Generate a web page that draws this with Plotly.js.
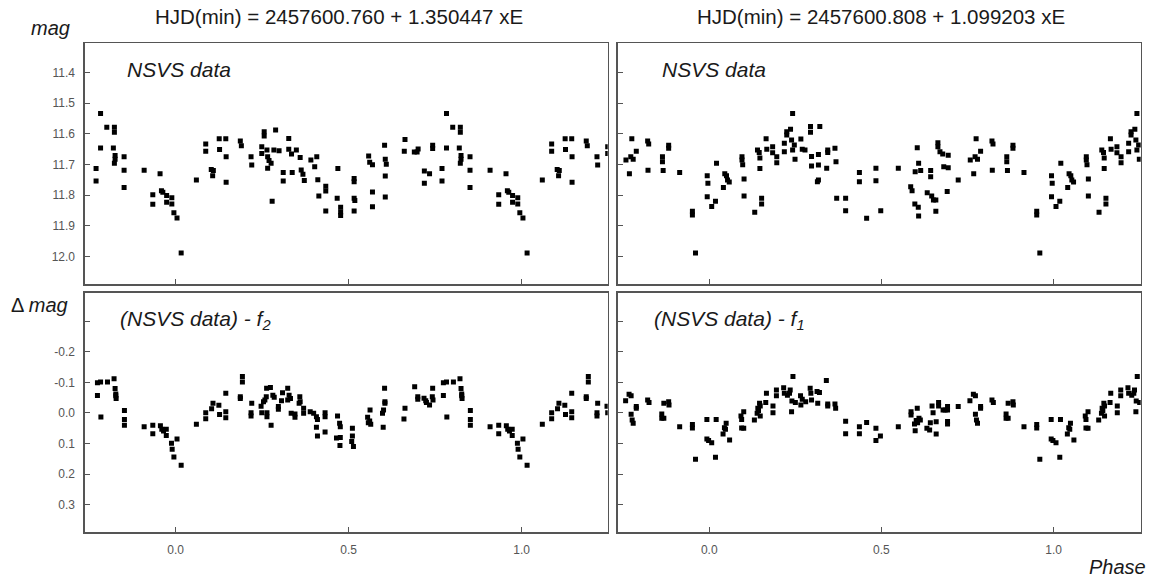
<!DOCTYPE html>
<html>
<head>
<meta charset="utf-8">
<script src="https://cdn.plot.ly/plotly-3.0.1.min.js"></script>
<style>
html,body{margin:0;padding:0;background:#fff;}
#chart{width:1155px;height:581px;}
</style>
</head>
<body>
<div id="chart"></div>
<script>
// ---------- DATA (one cycle of phase; points with phase <= 0.25 are repeated at phase+1) ----------
const titleLeft = "HJD(min) = 2457600.760 + 1.350447 xE";
const titleRight = "HJD(min) = 2457600.808 + 1.099203 xE";

const xTickVals = [0, 0.5, 1.0];
const xTickText = ["0.0", "0.5", "1.0"];
const magTickVals = [11.4, 11.5, 11.6, 11.7, 11.8, 11.9, 12.0];
const magTickText = ["11.4", "11.5", "11.6", "11.7", "11.8", "11.9", "12.0"];
const dmagTickVals = [-0.2, -0.1, 0.0, 0.1, 0.2, 0.3];
const dmagTickText = ["-0.2", "-0.1", "0.0", "0.1", "0.2", "0.3"];
const dmagUnlabelledTicks = [-0.3];

// Top-left: NSVS data, P = 1.350447 d
const tlPhase = [
 -0.230,-0.230,-0.217,-0.217,-0.199,-0.177,-0.177,-0.180,-0.175,-0.175,
 -0.177,-0.149,-0.149,-0.149,-0.091,-0.066,-0.066,-0.045,-0.041,-0.037,
 -0.026,-0.026,-0.011,-0.011,-0.005, 0.004, 0.016, 0.060, 0.087, 0.087,
  0.103, 0.107, 0.109, 0.126, 0.127, 0.145, 0.146, 0.146, 0.187, 0.190,
  0.218, 0.220, 0.249, 0.249, 0.256, 0.256, 0.264, 0.266, 0.266, 0.270,
  0.276, 0.279, 0.289, 0.284, 0.299, 0.311, 0.311, 0.327, 0.327, 0.335,
  0.337, 0.349, 0.360, 0.363, 0.368, 0.372, 0.391, 0.402, 0.408, 0.411,
  0.414, 0.434, 0.434, 0.434, 0.469, 0.467, 0.477, 0.477, 0.477, 0.516,
  0.516, 0.516, 0.518, 0.516, 0.558, 0.561, 0.569, 0.569, 0.569, 0.604,
  0.606, 0.609, 0.606, 0.606, 0.663, 0.661, 0.690, 0.698, 0.701, 0.719,
  0.719, 0.734, 0.743, 0.743];
const tlMag = [
 11.713,11.754,11.533,11.646,11.578,11.578,11.595,11.646,11.671,11.683,
 11.696,11.675,11.719,11.775,11.719,11.799,11.830,11.730,11.786,11.791,
 11.801,11.823,11.809,11.829,11.858,11.875,11.989,11.751,11.633,11.657,
 11.716,11.737,11.720,11.616,11.651,11.616,11.675,11.758,11.623,11.639,
 11.675,11.702,11.642,11.664,11.593,11.607,11.653,11.675,11.712,11.687,
 11.696,11.820,11.587,11.653,11.655,11.726,11.754,11.615,11.650,11.666,
 11.726,11.653,11.677,11.718,11.732,11.752,11.685,11.707,11.675,11.750,
 11.803,11.771,11.787,11.852,11.713,11.810,11.840,11.855,11.867,11.746,
 11.756,11.810,11.818,11.852,11.672,11.693,11.701,11.790,11.838,11.637,
 11.683,11.699,11.738,11.806,11.618,11.657,11.659,11.659,11.649,11.721,
 11.761,11.730,11.637,11.648];

// Top-right: NSVS data, P = 1.099203 d
const trPhase = [
 -0.242,-0.232,-0.228,-0.225,-0.221,-0.212,-0.179,-0.176,-0.178,-0.136,
 -0.136,-0.134,-0.118,-0.118,-0.086,-0.049,-0.049,-0.040,-0.006,-0.004,
 -0.006, 0.007, 0.018, 0.021, 0.041, 0.045, 0.050, 0.053, 0.058, 0.095,
  0.095, 0.097, 0.101, 0.101, 0.132, 0.140, 0.145, 0.147, 0.147, 0.152,
  0.152, 0.165, 0.167, 0.184, 0.184, 0.196, 0.196, 0.218, 0.218, 0.225,
  0.225, 0.236, 0.242, 0.239, 0.242, 0.247, 0.249, 0.266, 0.270, 0.278,
  0.294, 0.294, 0.297, 0.297, 0.317, 0.317, 0.321, 0.317, 0.314, 0.341,
  0.344, 0.344, 0.365, 0.368, 0.370, 0.396, 0.396, 0.436, 0.436, 0.457,
  0.484, 0.484, 0.498, 0.549, 0.604, 0.608, 0.598, 0.614, 0.585, 0.589,
  0.597, 0.607, 0.608, 0.633, 0.643, 0.643, 0.646, 0.651, 0.658, 0.658,
  0.664, 0.664, 0.670, 0.678, 0.681, 0.694, 0.694, 0.691, 0.723];
const trMag = [
 11.685,11.730,11.675,11.616,11.683,11.657,11.623,11.633,11.719,11.675,
 11.691,11.720,11.637,11.647,11.726,11.853,11.865,11.989,11.737,11.761,
 11.805,11.837,11.820,11.696,11.775,11.730,11.737,11.751,11.757,11.675,
 11.685,11.701,11.747,11.803,11.856,11.653,11.661,11.679,11.713,11.810,
 11.829,11.616,11.650,11.642,11.662,11.675,11.694,11.631,11.658,11.593,
 11.604,11.585,11.533,11.620,11.653,11.636,11.683,11.617,11.650,11.653,
 11.576,11.595,11.674,11.705,11.667,11.702,11.576,11.751,11.756,11.712,
 11.653,11.661,11.647,11.691,11.810,11.810,11.851,11.726,11.756,11.876,
 11.712,11.753,11.851,11.712,11.645,11.696,11.724,11.720,11.773,11.786,
 11.829,11.840,11.868,11.792,11.720,11.740,11.803,11.816,11.816,11.853,
 11.629,11.642,11.658,11.666,11.707,11.670,11.711,11.788,11.751];

// Bottom-left: (NSVS data) - f2
const blPhase = [
 -0.226,-0.217,-0.226,-0.216,-0.197,-0.178,-0.175,-0.173,-0.173,-0.172,
 -0.148,-0.148,-0.148,-0.091,-0.066,-0.066,-0.044,-0.040,-0.035,-0.027,
 -0.027,-0.012,-0.010,-0.005, 0.004, 0.016, 0.060, 0.087, 0.087, 0.104,
  0.108, 0.125, 0.127, 0.145, 0.145, 0.145, 0.187, 0.193, 0.193, 0.187,
  0.220, 0.218, 0.218, 0.247, 0.249, 0.254, 0.258, 0.262, 0.263, 0.274,
  0.264, 0.264, 0.276, 0.281, 0.285, 0.297, 0.297, 0.309, 0.306, 0.324,
  0.328, 0.332, 0.324, 0.334, 0.345, 0.345, 0.359, 0.360, 0.357, 0.370,
  0.370, 0.389, 0.399, 0.407, 0.410, 0.407, 0.410, 0.432, 0.432, 0.432,
  0.468, 0.474, 0.476, 0.465, 0.475, 0.476, 0.511, 0.511, 0.509, 0.514,
  0.555, 0.557, 0.564, 0.561, 0.562, 0.600, 0.598, 0.601, 0.605, 0.605,
  0.604, 0.660, 0.663, 0.691, 0.700, 0.700, 0.718, 0.723, 0.725, 0.734,
  0.742, 0.744, 0.743];
const blDmag = [
 -0.099,-0.101,-0.057, 0.013,-0.101,-0.112,-0.080,-0.062,-0.056,-0.047,
 -0.008, 0.021, 0.040, 0.045, 0.040, 0.068, 0.042, 0.053, 0.059, 0.053,
  0.074, 0.099, 0.119, 0.144, 0.085, 0.171, 0.037,-0.001, 0.019,-0.014,
 -0.032,-0.025, 0.005,-0.064,-0.004, 0.016,-0.047,-0.119,-0.101,-0.053,
 -0.032,-0.001, 0.010,-0.022,-0.001,-0.037,-0.042,-0.053,-0.081,-0.083,
 -0.001, 0.012, 0.040,-0.058,-0.051,-0.021,-0.012,-0.066,-0.040,-0.081,
 -0.058,-0.047,-0.042, 0.001, 0.003, 0.014,-0.053,-0.037,-0.032,-0.015,
  0.001,-0.004, 0.001, 0.012, 0.021, 0.047, 0.075,-0.001, 0.012, 0.062,
  0.010, 0.034, 0.045, 0.082, 0.106, 0.080, 0.050, 0.075, 0.093, 0.110,
  0.014, 0.032, 0.037, 0.026,-0.010, 0.047, 0.001,-0.010,-0.032,-0.037,
 -0.081, 0.020,-0.015,-0.086,-0.053,-0.045,-0.048,-0.040,-0.034,-0.026,
 -0.053,-0.042,-0.081];

// Bottom-right: (NSVS data) - f1
const brPhase = [
 -0.243,-0.233,-0.227,-0.227,-0.224,-0.221,-0.212,-0.212,-0.179,-0.175,
 -0.138,-0.138,-0.132,-0.132,-0.118,-0.117,-0.086,-0.049,-0.049,-0.040,
 -0.007,-0.007,-0.002, 0.007, 0.020, 0.018, 0.040, 0.044, 0.049, 0.047,
  0.059, 0.092, 0.094, 0.094, 0.100, 0.100, 0.131, 0.141, 0.143, 0.146,
  0.148, 0.139, 0.148, 0.166, 0.164, 0.185, 0.185, 0.195, 0.195, 0.216,
  0.218, 0.227, 0.235, 0.233, 0.243, 0.240, 0.250, 0.239, 0.265, 0.270,
  0.266, 0.280, 0.293, 0.295, 0.297, 0.313, 0.315, 0.320, 0.340, 0.344,
  0.344, 0.365, 0.367, 0.396, 0.396, 0.436, 0.436, 0.457, 0.484, 0.484,
  0.497, 0.549, 0.586, 0.586, 0.604, 0.596, 0.598, 0.601, 0.605, 0.609,
  0.613, 0.632, 0.640, 0.642, 0.647, 0.650, 0.659, 0.659, 0.666, 0.666,
  0.679, 0.685, 0.692, 0.692, 0.692, 0.692, 0.723];
const brDmag = [
 -0.040,-0.061,-0.056, 0.004, 0.023, 0.034,-0.015,-0.021,-0.042,-0.034,
  0.003, 0.017, 0.017,-0.032,-0.037,-0.026, 0.045, 0.038, 0.049, 0.151,
  0.021, 0.085, 0.090, 0.097, 0.021, 0.145, 0.069, 0.048, 0.034, 0.053,
  0.088, 0.010, 0.021, 0.049, 0.050,-0.004, 0.023,-0.015,-0.008,-0.032,
 -0.023, 0.001, 0.010,-0.064,-0.034,-0.023,-0.001,-0.075,-0.056,-0.082,
 -0.064,-0.058,-0.075,-0.064,-0.119,-0.039,-0.034,-0.004,-0.056,-0.045,
 -0.026,-0.037,-0.081,-0.064,-0.042,-0.070,-0.032,-0.067,-0.106,-0.029,
 -0.023,-0.029,-0.015, 0.027, 0.068, 0.045, 0.068, 0.031, 0.050, 0.090,
  0.075, 0.045,-0.004, 0.007,-0.015, 0.036, 0.058, 0.025, 0.032, 0.017,
  0.023, 0.050, 0.056, 0.032,-0.023,-0.001, 0.029, 0.069,-0.034,-0.023,
 -0.010,-0.010,-0.021,-0.010, 0.028, 0.036,-0.021];

// ---------- LAYOUT ----------
const W = 1155, H = 581;
const px = v => v / W;
const py = v => 1 - v / H;
const FONT = "Liberation Sans, Arial, sans-serif";
const AXC = "#555555";

// extend a phased light curve: each point shown at phase, and again at phase+1 when inside the axis
function extend(ph, val, xmax) {
  const xs = [], ys = [];
  const n = Math.min(ph.length, val.length);
  for (let i = 0; i < n; i++) {
    xs.push(ph[i]); ys.push(val[i]);
    if (ph[i] + 1 <= xmax) { xs.push(ph[i] + 1); ys.push(val[i]); }
  }
  return [xs, ys];
}

const leftRange = [-0.262, 1.249];
const rightRange = [-0.266, 1.253];
const magRange = [12.0905, 11.304];
const dmagRange = [0.390, -0.393];

const marker = {symbol: "square", size: 5, color: "#000000", line: {width: 0}};
function trace(ph, val, xmax, xa, ya) {
  const [xs, ys] = extend(ph, val, xmax);
  return {x: xs, y: ys, xaxis: xa, yaxis: ya, type: "scatter", mode: "markers",
          marker: marker, showlegend: false, hoverinfo: "skip", cliponaxis: true};
}

const data = [
  trace(tlPhase, tlMag, leftRange[1], "x", "y"),
  trace(trPhase, trMag, rightRange[1], "x2", "y2"),
  trace(blPhase, blDmag, leftRange[1], "x3", "y3"),
  trace(brPhase, brDmag, rightRange[1], "x4", "y4")
];

function axBase() {
  return {showline: true, mirror: true, linecolor: AXC, linewidth: 1.6,
          ticks: "inside", ticklen: 5, tickwidth: 1, tickcolor: AXC,
          showgrid: false, zeroline: false, fixedrange: true,
          tickfont: {family: FONT, size: 12, color: "#555555"}};
}
function xAx(domain, range, anchor, labels) {
  return Object.assign(axBase(), {domain: domain, range: range, anchor: anchor,
    tickmode: "array", tickvals: xTickVals, ticktext: xTickText,
    showticklabels: labels, ticklabelstandoff: 6});
}
function yAx(domain, range, anchor, vals, text, labels, extra) {
  const ax = Object.assign(axBase(), {domain: domain, range: range, anchor: anchor,
    tickmode: "array", tickvals: vals, ticktext: text,
    showticklabels: labels, ticklabelstandoff: 6});
  if (extra) {
    ax.minor = {tickmode: "array", tickvals: extra, ticks: "inside", ticklen: 5,
                tickwidth: 1, tickcolor: AXC, showgrid: false};
  }
  return ax;
}

const dL = [px(85), px(607.7)];
const dR = [px(617.7), px(1140.7)];
const dT = [py(284), py(43.3)];
const dB = [py(532.3), py(292.7)];

const txt = (text, x, y, xanchor, size) => ({
  text: text, x: x, y: y, xref: "paper", yref: "paper",
  xanchor: xanchor, yanchor: "middle", showarrow: false,
  font: {family: FONT, size: size, color: "#1a1a1a"}
});

const layout = {
  width: W, height: H,
  margin: {l: 0, r: 0, t: 0, b: 0},
  paper_bgcolor: "#ffffff", plot_bgcolor: "#ffffff",
  showlegend: false,
  xaxis: xAx(dL, leftRange, "y", false),
  yaxis: yAx(dT, magRange, "x", magTickVals, magTickText, true),
  xaxis2: xAx(dR, rightRange, "y2", false),
  yaxis2: yAx(dT, magRange, "x2", magTickVals, magTickText, false),
  xaxis3: xAx(dL, leftRange, "y3", true),
  yaxis3: yAx(dB, dmagRange, "x3", dmagTickVals, dmagTickText, true, dmagUnlabelledTicks),
  xaxis4: xAx(dR, rightRange, "y4", true),
  yaxis4: yAx(dB, dmagRange, "x4", dmagTickVals, dmagTickText, false, dmagUnlabelledTicks),
  annotations: [
    txt(titleLeft, px(338.5), py(16), "center", 20.5),
    txt(titleRight, px(881), py(16), "center", 20.5),
    txt("<i>mag</i>", px(29), py(28), "left", 20),
    txt("Δ <i>mag</i>", px(9), py(305), "left", 20),
    txt("<i>Phase</i>", px(1148), py(567), "right", 20),
    txt("<i>NSVS data</i>", px(125), py(70), "left", 21),
    txt("<i>NSVS data</i>", px(660), py(70), "left", 21),
    txt("<i>(NSVS data) - f<sub>2</sub></i>", px(118), py(320), "left", 21),
    txt("<i>(NSVS data) - f<sub>1</sub></i>", px(652), py(320), "left", 21)
  ]
};

Plotly.newPlot("chart", data, layout, {staticPlot: true, displayModeBar: false});
</script>
</body>
</html>
